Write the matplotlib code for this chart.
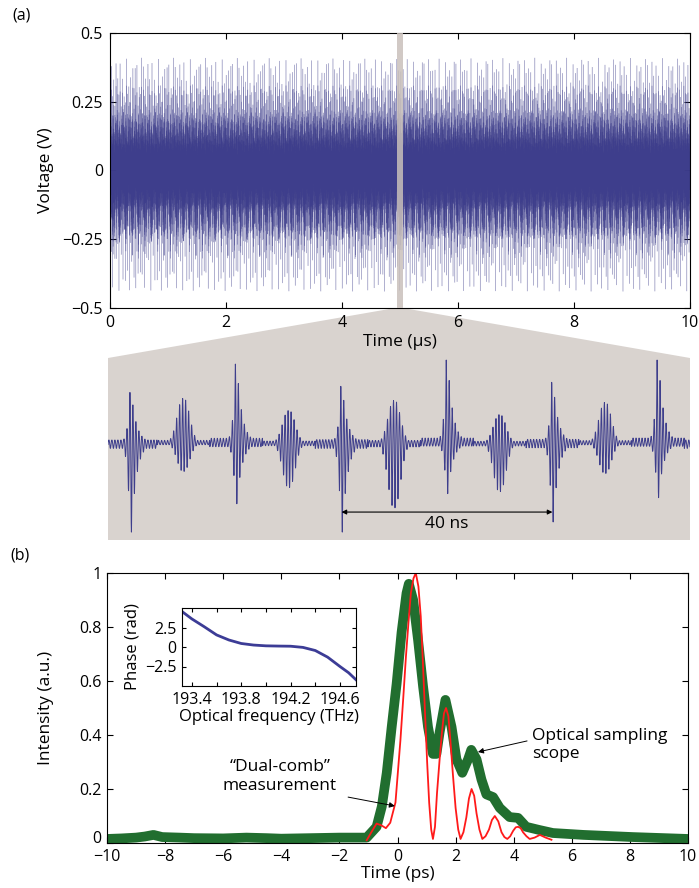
import numpy as np
import matplotlib.pyplot as plt
from matplotlib.patches import Polygon
from matplotlib.collections import LineCollection

plt.rcParams['font.family'] = ['Open Sans', 'DejaVu Sans']
plt.rcParams['font.size'] = 12.5
plt.rcParams['axes.labelsize'] = 12.5
plt.rcParams['xtick.labelsize'] = 11.5
plt.rcParams['ytick.labelsize'] = 11.5
plt.rcParams['axes.linewidth'] = 0.8
plt.rcParams['xtick.direction'] = 'in'
plt.rcParams['ytick.direction'] = 'in'
plt.rcParams['xtick.top'] = True
plt.rcParams['ytick.right'] = True
plt.rcParams['xtick.major.size'] = 4
plt.rcParams['ytick.major.size'] = 4
plt.rcParams['xtick.major.width'] = 0.8
plt.rcParams['ytick.major.width'] = 0.8

# (a) interferogram: one burst every 10 ns, amplitudes read from the zoomed view (V)
period_ns = 10.0
first_ns = 4.3
ring_ns = 0.57
pulse_up = [0.25, 0.22, 0.39, 0.16, 0.28, 0.21, 0.41, 0.14, 0.30, 0.20, 0.41]
pulse_down = [0.44, 0.14, 0.30, 0.22, 0.44, 0.32, 0.25, 0.24, 0.39, 0.15, 0.27]
pulse_spike = [True, False, True, False, True, False, True, False, True, False, True]
zoom_span_ns = 110.4

# (b) intensity profiles
green_t = [-10, -9.5, -9, -8.7, -8.4, -8.1, -7.5, -7, -6, -5.2, -4.5, -4, -3, -2, -1.5,
           -1.06, -0.72, -0.54, -0.37, -0.2, -0.03, 0.14, 0.31, 0.39, 0.54, 0.71, 0.88,
           1.05, 1.22, 1.34, 1.45, 1.65, 1.86, 2.03, 2.23, 2.43, 2.54, 2.72, 2.89, 3.06,
           3.29, 3.52, 3.86, 4.15, 4.43, 4.89, 5.35, 6.4, 8.1, 10]
green_i = [0.015, 0.017, 0.02, 0.024, 0.03, 0.022, 0.02, 0.018, 0.017, 0.02, 0.018, 0.016,
           0.018, 0.02, 0.02, 0.02, 0.06, 0.135, 0.26, 0.43, 0.59, 0.78, 0.925, 0.96, 0.9,
           0.75, 0.58, 0.43, 0.33, 0.33, 0.41, 0.53, 0.43, 0.31, 0.26, 0.31, 0.345, 0.31,
           0.235, 0.18, 0.17, 0.13, 0.096, 0.093, 0.06, 0.048, 0.037, 0.03, 0.022, 0.015]
red_t = [-1.06, -0.9, -0.72, -0.55, -0.4, -0.25, -0.07, 0.1, 0.2, 0.29, 0.38, 0.46, 0.55,
         0.63, 0.72, 0.8, 0.87, 0.94, 1.02, 1.09, 1.16, 1.22, 1.29, 1.36, 1.45, 1.53, 1.6,
         1.67, 1.75, 1.82, 1.91, 2.0, 2.09, 2.17, 2.27, 2.37, 2.46, 2.55, 2.64, 2.72, 2.82,
         2.92, 3.03, 3.15, 3.25, 3.35, 3.47, 3.58, 3.68, 3.78, 3.88, 3.98, 4.07, 4.15, 4.24,
         4.32, 4.44, 4.55, 4.72, 4.9, 5.1, 5.3]
red_i = [0.01, 0.04, 0.072, 0.065, 0.055, 0.075, 0.15, 0.38, 0.54, 0.69, 0.82, 0.925, 0.98,
         1.0, 0.95, 0.84, 0.68, 0.5, 0.3, 0.15, 0.05, 0.015, 0.06, 0.185, 0.31, 0.41, 0.48,
         0.5, 0.47, 0.38, 0.25, 0.13, 0.05, 0.015, 0.04, 0.095, 0.165, 0.2, 0.175, 0.11, 0.05,
         0.015, 0.025, 0.05, 0.085, 0.1, 0.08, 0.04, 0.022, 0.015, 0.025, 0.045, 0.058, 0.06,
         0.055, 0.04, 0.025, 0.015, 0.02, 0.03, 0.02, 0.012]

# inset: spectral phase
phase_f = [193.32, 193.4, 193.5, 193.6, 193.7, 193.8, 193.9, 194.0, 194.1, 194.2, 194.3,
           194.4, 194.5, 194.6, 194.67, 194.73]
phase_rad = [4.55, 3.6, 2.6, 1.55, 0.9, 0.45, 0.25, 0.15, 0.12, 0.1, -0.05, -0.45, -1.3,
             -2.5, -3.3, -4.2]


def interferogram(t):
    k = np.round((t - first_ns) / period_ns).astype(int)
    tau = t - (first_ns + k * period_ns)
    idx = k % len(pulse_up)
    up = np.array(pulse_up)[idx]
    dn = np.array(pulse_down)[idx]
    spike = np.array(pulse_spike)[idx]
    carrier = -np.sin(2 * np.pi * tau / ring_ns)
    amp = np.where(carrier > 0, up, dn)
    d = np.maximum(np.abs(tau) - 0.14, 0)
    env_spike = np.where(tau < 0, np.exp(-d / 0.45), np.exp(-d / 1.0))
    env_burst = np.exp(-(d / 1.5) ** 2)
    env = np.maximum(np.where(spike, env_spike, env_burst), 0.06)
    return amp * env * carrier


W, H = 699, 888


def box(x0, y0, x1, y1):
    return [x0 / W, 1 - y1 / H, (x1 - x0) / W, (y1 - y0) / H]


grey = '#d9d3cf'
blue = '#3e3e8c'

fig = plt.figure(figsize=(W / 100, H / 100), dpi=100)

# ---- (a) full trace, drawn as separate segments so overlaps build up the dark core
ax1 = fig.add_axes(box(110, 33, 690, 308))
t_top = np.arange(0, 10000, 10 / 73.618)
pts = np.column_stack([t_top / 1000, interferogram(t_top)])
segs = np.stack([pts[:-1], pts[1:]], axis=1)
ax1.add_collection(LineCollection(segs, colors=blue, linewidths=0.45, alpha=0.36))
ax1.axvspan(4.94, 5.06, color='#c9c0bb', alpha=0.85, zorder=3, lw=0)
ax1.set_xlim(0, 10)
ax1.set_ylim(-0.5, 0.5)
ax1.set_xticks(range(0, 11, 2))
ax1.set_yticks([-0.5, -0.25, 0, 0.25, 0.5], ['\u22120.5', '\u22120.25', '0', '0.25', '0.5'])
ax1.tick_params(pad=5)
ax1.set_xlabel('Time (\u03bcs)')
ax1.xaxis.set_label_coords(0.5, -0.095)
ax1.set_ylabel('Voltage (V)')
ax1.yaxis.set_label_coords(-0.097, 0.5)
fig.text(12 / W, 1 - 15 / H, '(a)', ha='left', va='center', fontsize=11.5)

fan = Polygon([[395 / W, 1 - 308 / H], [403 / W, 1 - 308 / H], [690 / W, 1 - 358 / H],
               [108 / W, 1 - 358 / H]], closed=True, transform=fig.transFigure,
              facecolor=grey, edgecolor='none', zorder=-1)
fig.add_artist(fan)

# ---- (a) zoomed view
ax2 = fig.add_axes(box(108, 358, 690, 540))
ax2.set_facecolor(grey)
t_zoom = np.arange(0, zoom_span_ns, 0.02)
ax2.plot(t_zoom, interferogram(t_zoom), color=blue, lw=0.7)
ax2.set_xlim(0, zoom_span_ns)
ax2.set_ylim(-0.479, 0.42)
ax2.set_xticks([])
ax2.set_yticks([])
for s in ax2.spines.values():
    s.set_visible(False)
a0 = first_ns + 4 * period_ns
a1 = first_ns + 8 * period_ns
ax2.annotate('', xy=(a0, -0.341), xytext=(a1, -0.341),
             arrowprops=dict(arrowstyle='<|-|>', color='k', lw=0.8, mutation_scale=7,
                             shrinkA=0, shrinkB=0))
ax2.text((a0 + a1) / 2, -0.398, '40 ns', ha='center', va='center')

# ---- (b) intensity
ax3 = fig.add_axes(box(107, 573, 688, 843))
ax3.plot(green_t, green_i, color='#216e2f', lw=7, solid_joinstyle='round')
ax3.plot(red_t, red_i, color='#ff1a1a', lw=1.3)
ax3.set_xlim(-10, 10)
ax3.set_ylim(0, 1)
ax3.set_xticks(range(-10, 11, 2))
ax3.set_yticks([0, 0.2, 0.4, 0.6, 0.8, 1], ['0', '0.2', '0.4', '0.6', '0.8', '1'])
ax3.tick_params(pad=4)
ax3.get_yticklabels()[0].set_verticalalignment('baseline')
ax3.set_xlabel('Time (ps)')
ax3.xaxis.set_label_coords(0.5, -0.085)
ax3.set_ylabel('Intensity (a.u.)')
ax3.yaxis.set_label_coords(-0.091, 0.5)
fig.text(10 / W, 1 - 555 / H, '(b)', ha='left', va='center', fontsize=11.5)

arrow = dict(arrowstyle='-|>', color='k', lw=0.7, mutation_scale=8, shrinkA=0, shrinkB=0)
ax3.annotate('', xy=(-0.09, 0.137), xytext=(-1.7, 0.17), arrowprops=arrow)
ax3.text(-4.05, 0.246, '\u201cDual-comb\u201d\nmeasurement', ha='center', va='center',
         linespacing=1.2)
ax3.annotate('', xy=(2.77, 0.337), xytext=(4.46, 0.378), arrowprops=arrow)
ax3.text(4.63, 0.363, 'Optical sampling\nscope', ha='left', va='center', linespacing=1.2)

# ---- inset
ax4 = fig.add_axes(box(182, 608, 356, 686))
ax4.plot(phase_f, phase_rad, color='#3c3c96', lw=2)
ax4.set_xlim(193.32, 194.73)
ax4.set_ylim(-5, 5)
ax4.set_xticks(np.arange(193.4, 194.7, 0.2))
ax4.set_xticklabels(['193.4', '', '193.8', '', '194.2', '', '194.6'])
ax4.set_yticks([-2.5, 0, 2.5], ['\u22122.5', '0', '2.5'])
ax4.tick_params(length=3, pad=4)
ax4.set_xlabel('Optical frequency (THz)', fontsize=12)
ax4.xaxis.set_label_coords(0.5, -0.29)
ax4.set_ylabel('Phase (rad)', fontsize=12)
ax4.yaxis.set_label_coords(-0.24, 0.5)

fig.savefig('out.png', dpi=100)
